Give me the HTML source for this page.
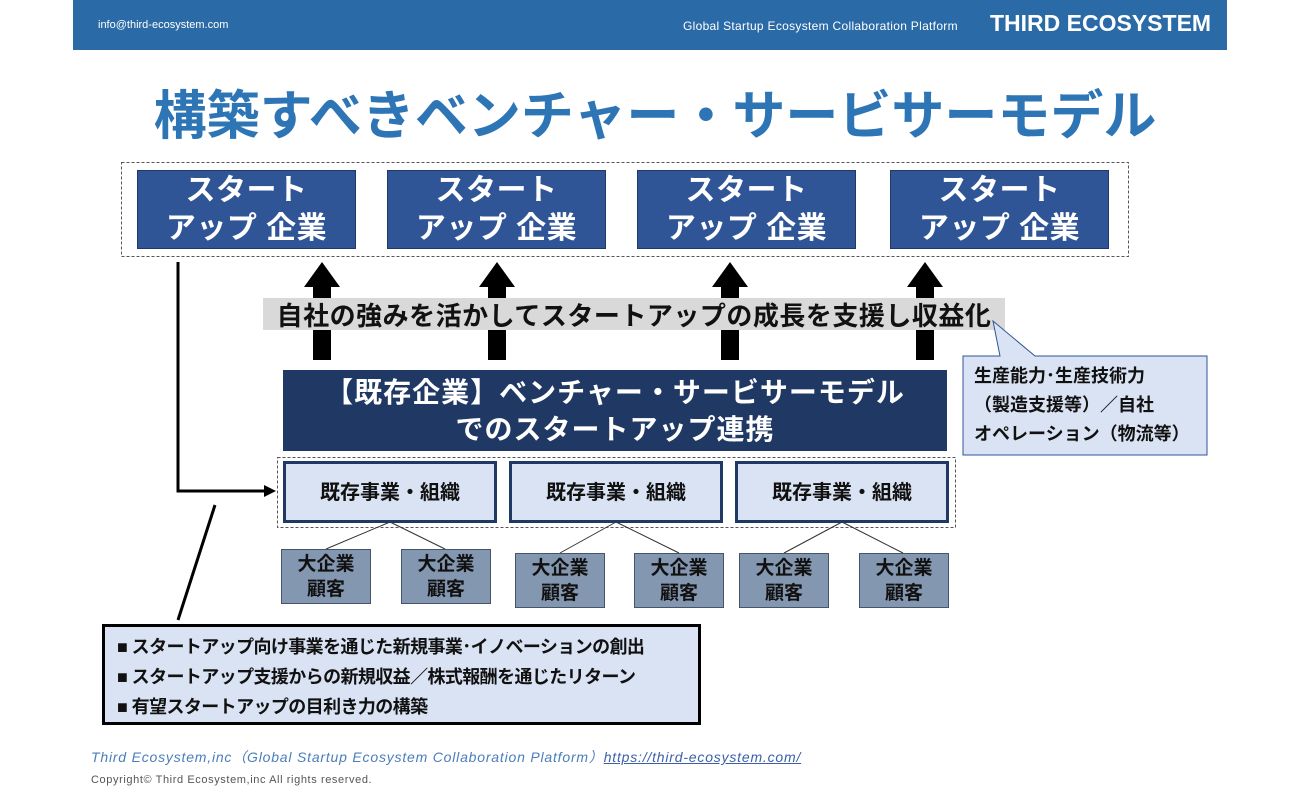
<!DOCTYPE html>
<html><head><meta charset="utf-8"><style>
*{margin:0;padding:0;box-sizing:border-box}
body{width:1300px;height:800px;background:#fff;position:relative;overflow:hidden;font-family:"Liberation Sans","Noto Sans CJK JP",sans-serif}
.a{position:absolute}
.c{display:flex;align-items:center;justify-content:center;text-align:center}
.su{background:#2f5597;color:#fff;font-weight:bold;font-size:30px;line-height:38px;top:170px;width:219px;height:79px;border:1px solid #1f3864;letter-spacing:0.5px}
.ex{background:#dae3f3;border:3px solid #203864;top:461px;height:62px;width:214px;font-size:20px;font-weight:bold;color:#111;padding-bottom:4px}
.sm{background:#8497b0;border:1px solid #44546a;width:90px;height:55px;font-size:19px;font-weight:bold;line-height:25px;color:#111}
</style></head><body>
<div class="a" style="left:73px;top:0;width:1154px;height:50px;background:#2a6aa6"></div>
<div class="a" style="left:98px;top:19px;color:#fff;font-size:11px">info@third-ecosystem.com</div>
<div class="a" style="left:683px;top:19px;color:#fff;font-size:12px;letter-spacing:0.3px">Global Startup Ecosystem Collaboration Platform</div>
<div class="a" style="left:990px;top:10px;color:#fff;font-size:23px;font-weight:bold">THIRD ECOSYSTEM</div>
<div class="a" style="left:0;width:1310px;top:74px;text-align:center;color:#2e75b6;font-size:53px;font-weight:bold">構築すべきベンチャー・サービサーモデル</div>

<svg class="a" style="left:0;top:0" width="1300" height="800">
<rect x="121.5" y="162.5" width="1007" height="94" fill="none" stroke="#555" stroke-dasharray="3,2"/>
<rect x="277.5" y="457.5" width="678" height="70" fill="none" stroke="#555" stroke-dasharray="3,2"/>
<g fill="#000">
<polygon points="313,360 331,360 331,287 340,287 322,262 304,287 313,287"/>
<polygon points="488,360 506,360 506,287 515,287 497,262 479,287 488,287"/>
<polygon points="721,360 739,360 739,287 748,287 730,262 712,287 721,287"/>
<polygon points="916,360 934,360 934,287 943,287 925,262 907,287 916,287"/>
</g>
<g stroke="#333" stroke-width="1" fill="none">
<path d="M390,522 L326,549 M390,522 L445,549"/>
<path d="M616,522 L560,553 M616,522 L679,553"/>
<path d="M842,522 L784,553 M842,522 L903,553"/>
</g>
<path d="M178,262 L178,491 L268,491" stroke="#000" stroke-width="3" fill="none"/>
<polygon points="276,491 264,485 264,497" fill="#000"/>
<path d="M215,505 L178,620" stroke="#000" stroke-width="3"/>
</svg>

<div class="a c su" style="left:137px">スタート<br>アップ 企業</div>
<div class="a c su" style="left:387px">スタート<br>アップ 企業</div>
<div class="a c su" style="left:637px">スタート<br>アップ 企業</div>
<div class="a c su" style="left:890px">スタート<br>アップ 企業</div>

<div class="a c" style="left:263px;top:298px;width:742px;height:32px;background:#d9d9d9;font-size:26px;font-weight:bold;color:#111;letter-spacing:0.5px">自社の強みを活かしてスタートアップの成長を支援し収益化</div>
<svg class="a" style="left:0;top:0" width="1300" height="800">
<polygon points="963,356 1000,356 993,321 1035,356 1207,356 1207,455 963,455" fill="#dae3f3" stroke="#2f5597" stroke-width="1"/>
</svg>
<div class="a" style="left:974px;top:362px;font-size:18px;font-weight:bold;line-height:29px;color:#111">生産能力･生産技術力<br>（製造支援等）／自社<br>オペレーション（物流等）</div>

<div class="a c" style="left:283px;top:370px;width:664px;height:81px;background:#203864;color:#fff;font-size:28px;font-weight:bold;line-height:37px;letter-spacing:1px">【既存企業】ベンチャー・サービサーモデル<br>でのスタートアップ連携</div>

<div class="a c ex" style="left:283px">既存事業・組織</div>
<div class="a c ex" style="left:509px">既存事業・組織</div>
<div class="a c ex" style="left:735px">既存事業・組織</div>

<div class="a c sm" style="left:281px;top:549px">大企業<br>顧客</div>
<div class="a c sm" style="left:401px;top:549px">大企業<br>顧客</div>
<div class="a c sm" style="left:515px;top:553px">大企業<br>顧客</div>
<div class="a c sm" style="left:634px;top:553px">大企業<br>顧客</div>
<div class="a c sm" style="left:739px;top:553px">大企業<br>顧客</div>
<div class="a c sm" style="left:859px;top:553px">大企業<br>顧客</div>

<div class="a" style="left:102px;top:624px;width:599px;height:101px;background:#dae3f3;border:3px solid #000;padding:5px 0 0 12px;font-size:18px;font-weight:bold;line-height:30px;color:#111;letter-spacing:-0.6px">■ スタートアップ向け事業を通じた新規事業･イノベーションの創出<br>■ スタートアップ支援からの新規収益／株式報酬を通じたリターン<br>■ 有望スタートアップの目利き力の構築</div>

<div class="a" style="left:91px;top:747px;font-size:14px;font-style:italic;color:#4a7ebb;letter-spacing:0.8px">Third Ecosystem,inc（Global Startup Ecosystem Collaboration Platform）<span style="text-decoration:underline;color:#3b5fa8">https://third-ecosystem.com/</span></div>
<div class="a" style="left:91px;top:774px;font-size:11px;color:#555;letter-spacing:0.6px">Copyright© Third Ecosystem,inc  All rights reserved.</div>
</body></html>
